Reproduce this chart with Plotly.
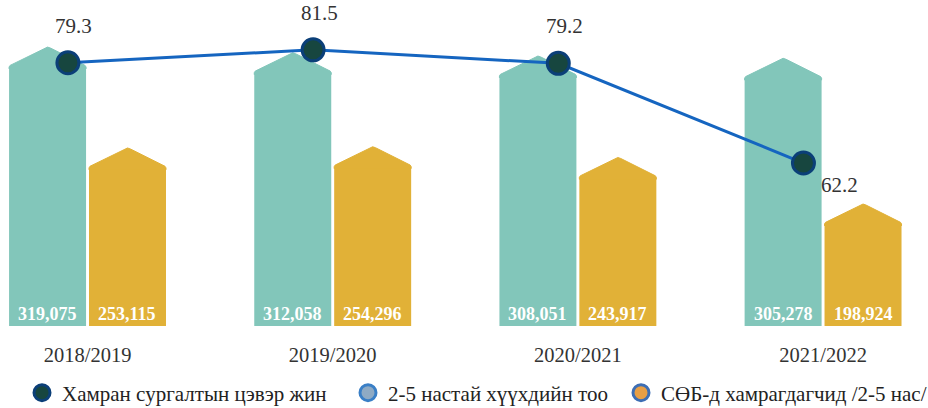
import plotly.graph_objects as go

categories = ["2018/2019", "2019/2020", "2020/2021", "2021/2022"]
children_2_5 = [319075, 312058, 308051, 305278]
enrolled_2_5 = [253115, 254296, 243917, 198924]
net_enrolment = [79.3, 81.5, 79.2, 62.2]

legend_names = ["Хамран сургалтын цэвэр жин", "2-5 настай хүүхдийн тоо", "СӨБ-д хамрагдагчид /2-5 нас/"]

TEAL = "#82c6ba"
GOLD = "#e1b137"
LINE = "#1565c0"
FONT = "Liberation Serif"

idx = list(range(len(categories)))
BW = 0.314      # bar width (axis units)
GAP = 0.012
teal_off = -(BW + GAP / 2)
gold_off = GAP / 2

Y1 = [0, 389300]
Y2 = [100300, 405700]
Y3 = [34.4, 88.3]
ROOF = 0.063  # roof height as fraction of axis span


def roof_xy(values, off, rng):
    xs, ys = [], []
    h = ROOF * (rng[1] - rng[0])
    for i, v in zip(idx, values):
        xl = i + off
        xr = xl + BW
        xc = xl + BW / 2
        xs += [xl, xl, xl + 0.004, xl + 0.014, xc - 0.012, xc, xc + 0.012,
               xr - 0.014, xr - 0.004, xr, xr, None]
        ys += [v - h * 0.1, v, v + h * 0.08, v + h * 0.14, v + h * 0.95, v + h, v + h * 0.95,
               v + h * 0.14, v + h * 0.08, v, v - h * 0.1, None]
    return xs, ys


fig = go.Figure()

for vals, off, col, ax, rng in [(children_2_5, teal_off, TEAL, "y", Y1),
                                (enrolled_2_5, gold_off, GOLD, "y2", Y2)]:
    fig.add_trace(go.Bar(
        x=idx, y=vals, width=BW, offset=off, marker_color=col,
        marker_line_width=0, yaxis=ax, showlegend=False, hoverinfo="skip"))
    rx, ry = roof_xy(vals, off, rng)
    fig.add_trace(go.Scatter(x=rx, y=ry, fill="toself", fillcolor=col, mode="lines",
                             line=dict(color=col, width=1),
                             yaxis=ax, showlegend=False, hoverinfo="skip"))
    for i, v in zip(idx, vals):
        fig.add_annotation(x=i + off + BW / 2, y=0, xref="x", yref="paper", yanchor="bottom",
                           text=f"<b>{v:,}</b>", showarrow=False, yshift=0,
                           font=dict(family=FONT, size=18, color="white"))

line_x = [i - 0.08 for i in idx]
fig.add_trace(go.Scatter(
    x=line_x, y=net_enrolment, mode="lines+markers", yaxis="y3", showlegend=False,
    line=dict(color=LINE, width=3),
    marker=dict(size=22, color="#17463f", line=dict(color="#0b3f78", width=3)),
    cliponaxis=False, hoverinfo="skip"))

# legend entries (one legend box per entry to match spacing)
leg_styles = [
    dict(color="#17463f", line=dict(color="#0b3f78", width=3)),
    dict(color="#8eaac4", line=dict(color="#3a7fc6", width=3)),
    dict(color="#e89f45", line=dict(color="#3d6eb4", width=3)),
]
leg_ids = ["legend", "legend2", "legend3"]
leg_x = [22 / 928, 348 / 928, 621 / 928]
for name, st, lid in zip(legend_names, leg_styles, leg_ids):
    fig.add_trace(go.Scatter(x=[None], y=[None], mode="markers", name=name, yaxis="y3",
                             legend=lid, marker=dict(size=18, symbol="circle", **st)))

placements = ["above", "above", "above", "below-right"]
for x, v, p in zip(line_x, net_enrolment, placements):
    if p == "above":
        fig.add_annotation(x=x, y=v, xref="x", yref="y3", text=f"{v}", showarrow=False,
                           xshift=6, yshift=37,
                           font=dict(family=FONT, size=21, color="#333"))
    else:
        fig.add_annotation(x=x, y=v, xref="x", yref="y3", text=f"{v}", showarrow=False,
                           xshift=36, yshift=-22,
                           font=dict(family=FONT, size=21, color="#333"))

leg_common = dict(orientation="h", xanchor="left", y=-0.212, yanchor="middle",
                  font=dict(family=FONT, size=21, color="#222"),
                  itemwidth=30, bgcolor="rgba(0,0,0,0)")

fig.update_layout(
    width=928, height=408,
    margin=dict(l=0, r=0, t=10, b=82, autoexpand=False),
    paper_bgcolor="white", plot_bgcolor="white",
    barmode="overlay",
    xaxis=dict(range=[-0.357, 3.428], tickvals=idx, ticktext=categories,
               showgrid=False, zeroline=False, showline=False, ticks="",
               tickfont=dict(family=FONT, size=20.5, color="#333"), ticklabelstandoff=14),
    yaxis=dict(range=Y1, visible=False),
    yaxis2=dict(range=Y2, visible=False, overlaying="y"),
    yaxis3=dict(range=Y3, visible=False, overlaying="y"),
    legend=dict(x=leg_x[0], **leg_common),
    legend2=dict(x=leg_x[1], **leg_common),
    legend3=dict(x=leg_x[2], **leg_common),
    font=dict(family=FONT),
)

fig.write_html("out.html", config={"displayModeBar": False},
               post_script="document.body.style.margin='0';")
